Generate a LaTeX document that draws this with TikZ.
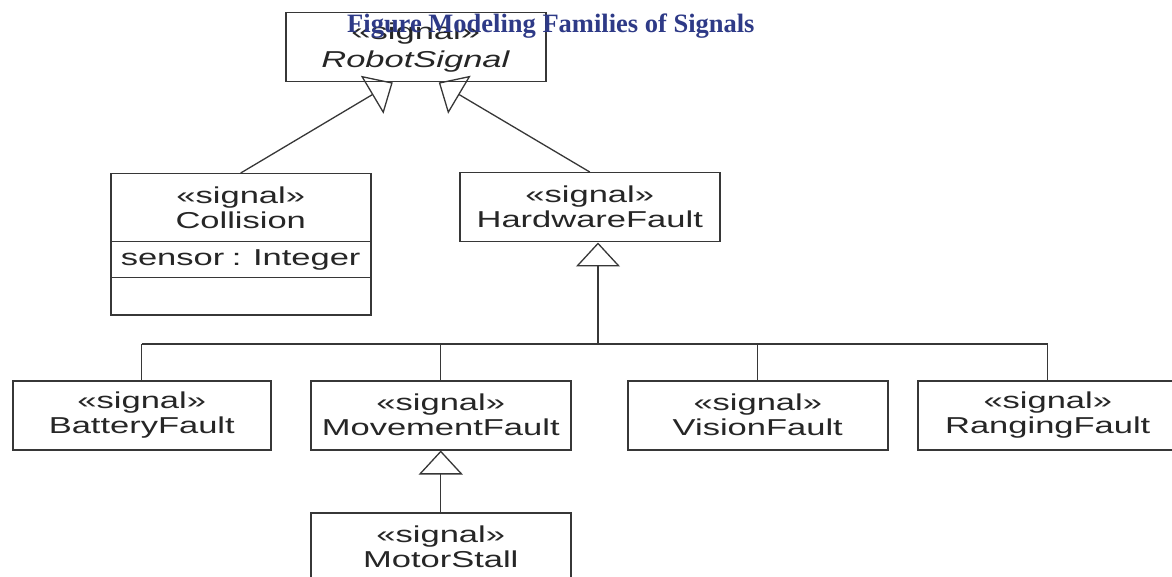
\documentclass[tikz,border=0pt]{standalone}
\usepackage{fontspec}
\newfontfamily\umlfont[FakeStretch=1.5]{Liberation Sans}
\newfontfamily\titlefont{Liberation Serif}
\usetikzlibrary{arrows.meta,calc}
\definecolor{titleblue}{RGB}{46,58,135}
\definecolor{ink}{RGB}{55,55,55}

\begin{document}
\begin{tikzpicture}[x=1pt,y=-1pt,
  umltext/.style={font=\umlfont\fontsize{23}{25}\selectfont, text=black!85},
  cls/.style={draw=ink, line width=1.5pt, minimum width=260pt, minimum height=69pt,
              inner sep=0pt, align=center, anchor=north west, umltext},
  compartment/.style={draw=ink, line width=1.5pt, minimum width=260pt,
              inner sep=0pt, anchor=north west, umltext},
  gen/.style={draw=ink, line width=1.3pt,
              -{Triangle[open, length=24pt, width=44pt, line width=1.3pt]}},
  link/.style={draw=ink, line width=1.3pt}]
\useasboundingbox (0,0) rectangle (1172,577);
\fill[white] (0,0) rectangle (1172,577);
\clip (0,0) rectangle (1172,577);

% root signal
\node[cls] (robot) at (285,12) {«signal»\\[3pt]\textit{RobotSignal}};

% Collision with its attribute compartments
\node[compartment, minimum height=68pt, align=center] (coll) at (110,173) {«signal»\\Collision};
\node[compartment, minimum height=36pt, text width=240pt, align=left] (collattr) at (110,241) {sensor : Integer};
\node[compartment, minimum height=37pt] (collops) at (110,277) {};

% hardware faults
\node[cls] (hw) at (459,172) {«signal»\\HardwareFault};
\node[cls, minimum width=258pt] (battery) at (12,380) {«signal»\\BatteryFault};
\node[cls] (movement) at (310,380) {«signal»\\MovementFault};
\node[cls] (vision) at (627,380) {«signal»\\VisionFault};
\node[cls] (ranging) at (917,380) {«signal»\\RangingFault};
\node[cls] (motor) at (310,512) {«signal»\\MotorStall};

% generalizations to RobotSignal
\draw[gen] (coll.north) -- ($(robot.south)+(-23,0)$);
\draw[gen] (hw.north) -- ($(robot.south)+(23,0)$);

% shared generalization tree to HardwareFault
\coordinate (hub) at (598,344);
\draw[gen] (hub) -- (hub |- hw.south);
\draw[link] (battery.north |- hub) -- (ranging.north |- hub);
\foreach \c in {battery,movement,vision,ranging}
  \draw[link] (\c.north) -- (\c.north |- hub);

% MotorStall specializes MovementFault
\draw[gen] (motor.north) -- (movement.south);

% caption
\node[font=\titlefont\bfseries\fontsize{26.5}{28}\selectfont, text=titleblue,
      anchor=base west, inner sep=0pt] (title) at (347,33)
      {Figure Modeling Families of Signals};
\end{tikzpicture}
\end{document}
